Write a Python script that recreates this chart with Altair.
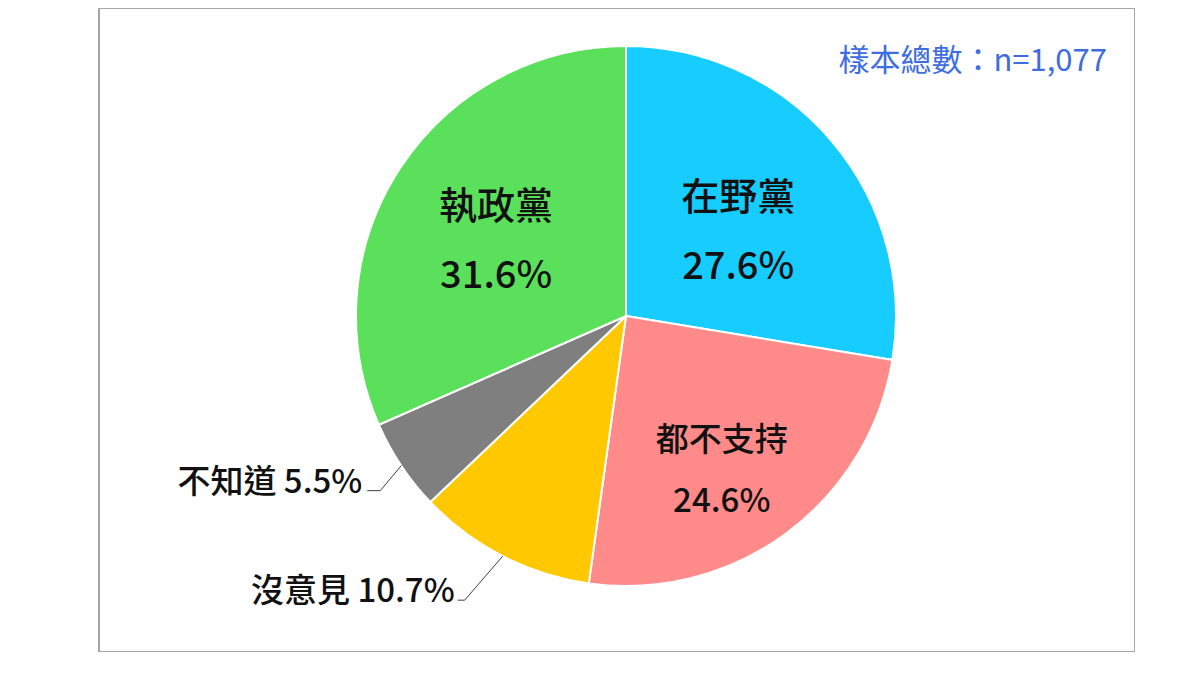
import altair as alt
import pandas as pd

# ---- data ----
categories = ["在野黨", "都不支持", "沒意見", "不知道", "執政黨"]
values = [27.6, 24.6, 10.7, 5.5, 31.6]
pct_labels = ["27.6%", "24.6%", "10.7%", "5.5%", "31.6%"]
colors = ["#17CCFF", "#FF8A8A", "#FFC800", "#7F7F7F", "#5BE05B"]
sample_note = "樣本總數：n=1,077"

df = pd.DataFrame({
    "cat": categories,
    "value": values,
    "pct": pct_labels,
    "order": list(range(len(categories))),
})

# ---- layout ----
CX, CY, R = 527, 308, 270
FONT = "Noto Sans CJK TC"
WEIGHT = 500
inside = ["在野黨", "都不支持", "執政黨"]
outside = ["沒意見", "不知道"]


def pick(mapping, default):
    expr = str(default)
    for k, v in mapping.items():
        expr = f"(datum.cat == '{k}' ? {v} : {expr})"
    return expr


lab_r = pick({"在野黨": 139, "都不支持": 183, "執政黨": 149}, 150)
lab_nudge = pick({"在野黨": 0.072, "都不支持": 0.084, "執政黨": -0.066}, 0)
lab_fs = pick({"都不支持": 33}, 38)
lab_half = pick({"都不支持": 30.5}, 34.5)
elb_dx = pick({"不知道": -21, "沒意見": -38}, 0)
elb_dy = pick({"不知道": 25, "沒意見": 44}, 0)
hz_len = pick({"不知道": 13, "沒意見": 7}, 10)
txt_gap = pick({"不知道": 5, "沒意見": 3}, 4)

base = alt.Chart(df)

arcs = base.mark_arc(outerRadius=R, stroke="white", strokeWidth=2).encode(
    theta=alt.Theta("value:Q", stack=True),
    order=alt.Order("order:Q"),
    color=alt.Color("cat:N", scale=alt.Scale(domain=categories, range=colors), legend=None),
    x=alt.value(CX),
    y=alt.value(CY),
)

calc = base.transform_joinaggregate(total="sum(value)").transform_window(
    cum="sum(value)", sort=[alt.SortField("order")], frame=[None, 0]
).transform_calculate(
    mid="2*PI*(datum.cum - datum.value/2)/datum.total"
)

big = calc.transform_filter(alt.FieldOneOfPredicate(field="cat", oneOf=inside)).transform_calculate(
    lr=lab_r, ln=lab_nudge, fs=lab_fs, hh=lab_half
).transform_calculate(
    lx=f"{CX} + datum.lr*sin(datum.mid + datum.ln)",
    ly=f"{CY} - datum.lr*cos(datum.mid + datum.ln)",
).transform_calculate(
    ny="datum.ly - datum.hh",
    py="datum.ly + datum.hh",
)

name_txt = big.mark_text(font=FONT, fontWeight=WEIGHT, color="#111111", baseline="middle").encode(
    x=alt.X("lx:Q", scale=None), y=alt.Y("ny:Q", scale=None), text="cat:N",
    size=alt.Size("fs:Q", scale=None, legend=None),
)
pct_txt = big.mark_text(font=FONT, fontWeight=WEIGHT, color="#111111", baseline="middle").encode(
    x=alt.X("lx:Q", scale=None), y=alt.Y("py:Q", scale=None), text="pct:N",
    size=alt.Size("fs:Q", scale=None, legend=None),
)

small = calc.transform_filter(alt.FieldOneOfPredicate(field="cat", oneOf=outside)).transform_calculate(
    ex=f"{CX} + {R}*sin(datum.mid)",
    ey=f"{CY} - {R}*cos(datum.mid)",
).transform_calculate(
    bx=f"datum.ex + {elb_dx}",
    by=f"datum.ey + {elb_dy}",
).transform_calculate(
    hx=f"datum.bx - {hz_len}",
).transform_calculate(
    tx=f"datum.hx - {txt_gap}",
    ty="datum.by + 2",
    lbl="datum.cat + ' ' + datum.pct",
)

lead1 = small.mark_rule(color="#404040", strokeWidth=1).encode(
    x=alt.X("ex:Q", scale=None), y=alt.Y("ey:Q", scale=None),
    x2="bx:Q", y2="by:Q",
)
lead2 = small.mark_rule(color="#404040", strokeWidth=1).encode(
    x=alt.X("bx:Q", scale=None), y=alt.Y("by:Q", scale=None),
    x2="hx:Q", y2="by:Q",
)
small_txt = small.mark_text(font=FONT, fontWeight=WEIGHT, fontSize=33, color="#111111", align="right",
                            baseline="alphabetic").encode(
    x=alt.X("tx:Q", scale=None), y=alt.Y("ty:Q", scale=None), text="lbl:N"
)

note = alt.Chart(pd.DataFrame({"t": [sample_note]})).mark_text(
    font=FONT, fontWeight="normal", fontSize=31, color="#3D6DE0", align="right", baseline="middle"
).encode(x=alt.value(1008), y=alt.value(54), text="t:N")

chart = alt.layer(arcs, name_txt, pct_txt, lead1, lead2, small_txt, note).properties(
    width=1036, height=644,
    padding={"left": 91, "top": 0, "right": 0, "bottom": 0},
).configure_view(stroke="#A6A6A6", strokeWidth=2)

chart.save("out.html", embed_options={"renderer": "svg", "actions": False})
